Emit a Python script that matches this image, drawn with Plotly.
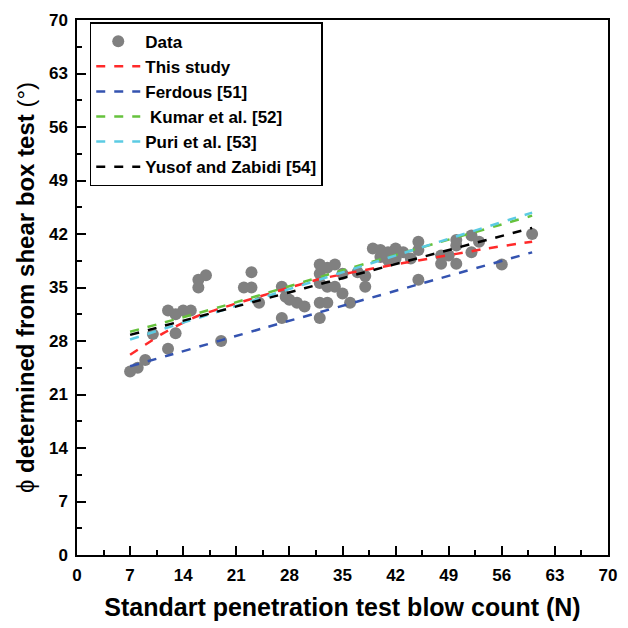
import plotly.graph_objects as go

# Measured data (SPT blow count N vs friction angle phi)
N_data = [7, 8, 9, 10, 12, 12, 13, 13, 14, 15, 16, 16, 17, 19, 22, 23, 23, 24, 27, 27,
          27.5, 28, 29, 30, 32, 33, 34, 32, 32, 33, 34, 35, 35, 32, 33, 36, 32, 37, 38, 38,
          39, 40, 40, 41, 42, 43, 41, 42, 44, 45, 45, 45, 48, 48, 49, 50, 50, 50, 52, 53,
          52, 56, 60]
phi_data = [24.0, 24.5, 25.5, 28.9, 27.0, 32.0, 31.5, 29.0, 32.0, 32.0, 35.0, 36.0, 36.6, 28.0, 35.0, 35.0, 37.0, 33.0, 35.1, 31.0,
            33.8, 33.4, 33.0, 32.5, 38.0, 37.6, 38.0, 36.8, 35.6, 35.1, 35.1, 34.2, 36.8, 33.0, 33.0, 33.0, 31.0, 37.0, 36.5, 35.1,
            40.1, 39.0, 39.9, 39.6, 40.1, 39.6, 38.6, 38.8, 38.8, 41.0, 39.9, 36.0, 39.2, 38.1, 39.2, 40.5, 41.2, 38.1, 41.8, 41.0,
            39.6, 38.0, 42.0]

# Correlation curves
N_this = [7, 9, 11, 13, 16, 20, 24, 27, 32, 38, 43, 50, 54, 60]
phi_this = [26.2, 27.5, 28.8, 29.9, 31.3, 32.6, 33.8, 34.7, 36.1, 37.3, 38.2, 39.4, 40.1, 41.0]

N_ferdous = [7, 12, 25, 60]
phi_ferdous = [24.7, 26.1, 29.8, 39.6]

N_kumar = [7, 19, 34.5, 60]
phi_kumar = [29.2, 32.5, 37.1, 44.4]

N_puri = [7, 43, 60]
phi_puri = [28.2, 39.5, 44.8]

N_yusof = [7, 30, 60]
phi_yusof = [28.8, 34.9, 42.8]

x_ticks = [0, 7, 14, 21, 28, 35, 42, 49, 56, 63, 70]
y_ticks = [0, 7, 14, 21, 28, 35, 42, 49, 56, 63, 70]

FONT = "Liberation Sans, Arial, sans-serif"

fig = go.Figure()
fig.add_trace(go.Scatter(x=N_data, y=phi_data, mode="markers", name="Data",
                         marker=dict(size=12, color="#808080")))

lines = [
    ("This study", N_this, phi_this, "#ff2a2a"),
    ("Ferdous [51]", N_ferdous, phi_ferdous, "#3453b0"),
    ("\u00a0Kumar et al. [52]", N_kumar, phi_kumar, "#66c23d"),
    ("Puri et al. [53]", N_puri, phi_puri, "#5ccbe3"),
    ("Yusof and Zabidi [54]", N_yusof, phi_yusof, "#000000"),
]
for name, xs, ys, col in lines:
    fig.add_trace(go.Scatter(x=xs, y=ys, mode="lines", name=name,
                             line=dict(color=col, width=2.5, dash="dash", shape="spline", smoothing=0.6)))

axis_common = dict(
    range=[0, 70], showgrid=False, zeroline=False,
    showline=True, linecolor="black", linewidth=1.5, mirror=True,
    ticks="inside", ticklen=9, tickwidth=1.5, tickcolor="black",
    minor=dict(ticks="inside", ticklen=5, tickwidth=1.5, tickcolor="black", dtick=3.5, tick0=0),
    tickfont=dict(family=FONT, size=17, color="black", weight="bold"),
    ticklabelstandoff=4,
)

fig.update_xaxes(**axis_common, tickmode="array", tickvals=x_ticks,
                 title=dict(text="Standart penetration test blow count (N)",
                            font=dict(family=FONT, size=25, color="black", weight="bold"),
                            standoff=14))
fig.update_yaxes(**axis_common, tickmode="array", tickvals=y_ticks,
                 title=dict(text="\u03d5 <b>determined from shear box test</b> (\u00b0)",
                            font=dict(family=FONT, size=24, color="black", weight="normal"),
                            standoff=8))

fig.update_layout(
    width=628, height=628,
    margin=dict(l=77, r=11, t=18, b=71),
    plot_bgcolor="white", paper_bgcolor="white",
    showlegend=True,
    legend=dict(x=0.024, y=0.996, xanchor="left", yanchor="top",
                bgcolor="white", bordercolor="black", borderwidth=1.5,
                font=dict(family=FONT, size=17, color="black", weight="bold"),
                itemwidth=44, tracegroupgap=0),
)

fig.write_html("out.html", config={"displayModeBar": False},
               post_script="document.body.style.margin='0';")
